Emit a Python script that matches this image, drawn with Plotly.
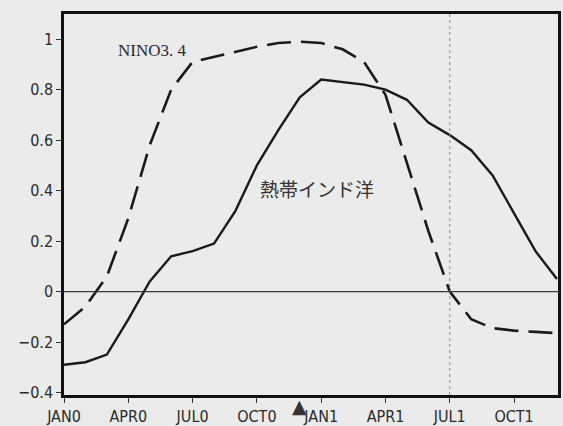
import plotly.graph_objects as go

months = list(range(24))
tick_vals = [0, 3, 6, 9, 12, 15, 18, 21]
tick_text = ["JAN0", "APR0", "JUL0", "OCT0", "JAN1", "APR1", "JUL1", "OCT1"]
y_tick_vals = [-0.4, -0.2, 0, 0.2, 0.4, 0.6, 0.8, 1]
y_tick_text = ["−0.4", "−0.2", "0", "0.2", "0.4", "0.6", "0.8", "1"]

nino34 = [-0.13, -0.06, 0.06, 0.29, 0.58, 0.80, 0.91, 0.93, 0.95, 0.97, 0.985, 0.99,
          0.985, 0.96, 0.91, 0.78, 0.51, 0.24, 0.00, -0.11, -0.145, -0.155, -0.16, -0.165]
indian = [-0.29, -0.28, -0.25, -0.11, 0.04, 0.14, 0.16, 0.19, 0.32, 0.50, 0.64, 0.77,
          0.84, 0.83, 0.82, 0.80, 0.76, 0.67, 0.62, 0.56, 0.46, 0.31, 0.16, 0.05]
marker_month = 11
ref_month = 18
label_nino = "NINO3. 4"
label_indian = "熱帯インド洋"

BG = "#ebebeb"
fig = go.Figure()
fig.add_trace(go.Scatter(x=months, y=nino34, mode="lines",
                         line=dict(color="#1a1a1a", width=2.6, dash="24px,10px"),
                         showlegend=False))
fig.add_trace(go.Scatter(x=months, y=indian, mode="lines",
                         line=dict(color="#1a1a1a", width=2.4),
                         showlegend=False))

fig.add_shape(type="line", xref="x", yref="paper", x0=ref_month, x1=ref_month, y0=0, y1=1,
              line=dict(color="#8a8a8a", width=1, dash="dot"))
fig.add_shape(type="line", xref="paper", yref="y", x0=0, x1=1, y0=0, y1=0,
              line=dict(color="#3a3a3a", width=1.2))

fig.add_annotation(x=4.1, y=0.955, xref="x", yref="y", text=label_nino, showarrow=False,
                   xanchor="center", yanchor="middle",
                   font=dict(family="Liberation Serif, DejaVu Serif, serif", size=17, color="#2a2a2a"))
fig.add_annotation(x=11.8, y=0.41, xref="x", yref="y", text=label_indian, showarrow=False,
                   xanchor="center", yanchor="middle",
                   font=dict(family="Noto Sans CJK JP, sans-serif", size=19, color="#333333"))
fig.add_annotation(x=marker_month, y=0, xref="x", yref="paper", text="▲", showarrow=False,
                   xanchor="center", yanchor="top", yshift=2,
                   font=dict(family="DejaVu Sans, sans-serif", size=19, color="#333333"))

tick_font = dict(family="Liberation Sans Narrow, DejaVu Sans Condensed, Arial Narrow, Liberation Sans, sans-serif",
                 size=16, color="#2a2a2a")
fig.update_xaxes(range=[0, 23.05], tickvals=tick_vals, ticktext=tick_text, automargin=False,
                 showgrid=False, zeroline=False, showline=True, linecolor="#111111", linewidth=2.5,
                 mirror=True, ticks="outside", ticklen=5, tickcolor="#333333", tickwidth=1,
                 tickfont=dict(tick_font, size=16))
fig.update_yaxes(range=[-0.41, 1.1], tickvals=y_tick_vals, ticktext=y_tick_text, automargin=False,
                 showgrid=False, zeroline=False, showline=True, linecolor="#111111", linewidth=2.5,
                 mirror=True, ticks="outside", ticklen=5, tickcolor="#333333", tickwidth=1,
                 tickfont=tick_font)
fig.update_layout(width=563, height=426, paper_bgcolor=BG, plot_bgcolor=BG,
                  margin=dict(l=64, r=5, t=14, b=31), showlegend=False)

fig.write_html("out.html", config={"displayModeBar": False},
               post_script="document.body.style.margin='0';document.body.style.background='#ebebeb';")
